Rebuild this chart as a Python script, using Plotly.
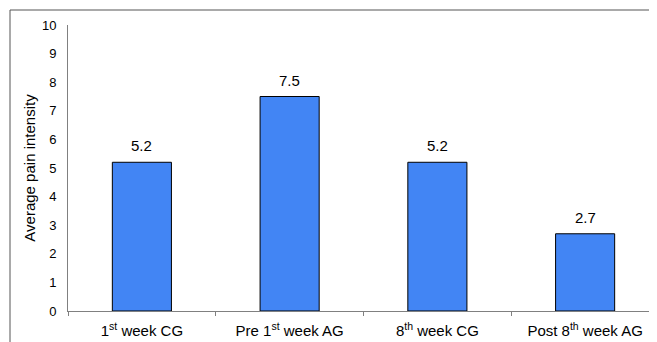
import plotly.graph_objects as go

categories = ["1st week CG", "Pre 1st week AG", "8th week CG", "Post 8th week AG"]
tick_labels = ["1<sup>st</sup> week CG", "Pre 1<sup>st</sup> week AG",
               "8<sup>th</sup> week CG", "Post 8<sup>th</sup> week AG"]
values = [5.2, 7.5, 5.2, 2.7]
y_ticks = list(range(0, 11))

FONT = "Liberation Sans, Arial, sans-serif"

# page body adds an 8px offset, so layout is expressed in figure coords
L, T, B, R = 60, 17, 39, 6
W, H = 657, 342
pw, ph = W - L - R, H - T - B

fig = go.Figure()
fig.add_trace(go.Bar(
    x=categories, y=values,
    width=0.4,
    marker=dict(color="#4285F4", line=dict(color="#000000", width=1)),
    hoverinfo="x+y",
))

for c, v in zip(categories, values):
    fig.add_annotation(x=c, y=v, text=f"{v:.1f}", showarrow=False,
                       yanchor="bottom", yshift=6,
                       font=dict(family=FONT, size=15, color="#000000"))

fig.update_layout(
    width=W, height=H,
    margin=dict(l=L, r=R, t=T, b=B, autoexpand=False),
    plot_bgcolor="white", paper_bgcolor="white",
    font=dict(family=FONT, size=13, color="#000000"),
    showlegend=False,
    shapes=[dict(type="rect", xref="paper", yref="paper",
                 x0=(2 - L) / pw, x1=1.2, y0=-0.3, y1=1 + 15 / ph,
                 line=dict(color="#555555", width=1), fillcolor="rgba(0,0,0,0)",
                 layer="below")],
)
fig.update_xaxes(
    type="category", tickvals=categories, ticktext=tick_labels,
    tickson="boundaries", ticks="outside", ticklen=4, tickcolor="#808080",
    showline=True, linecolor="#808080", linewidth=1,
    showgrid=False, zeroline=False, automargin=False,
    tickfont=dict(family=FONT, size=15, color="#000000"),
    ticklabelstandoff=6,
    range=[-0.5, 3.5],
)
fig.update_yaxes(
    range=[0, 10], tickvals=y_ticks, ticks="", showline=True,
    linecolor="#808080", linewidth=1, showgrid=False, zeroline=False,
    automargin=False, ticklabelstandoff=8,
    tickfont=dict(family=FONT, size=13, color="#000000"),
    title=dict(text="Average pain intensity",
               font=dict(family=FONT, size=15, color="#000000"), standoff=2),
)

fig.write_html("out.html")
